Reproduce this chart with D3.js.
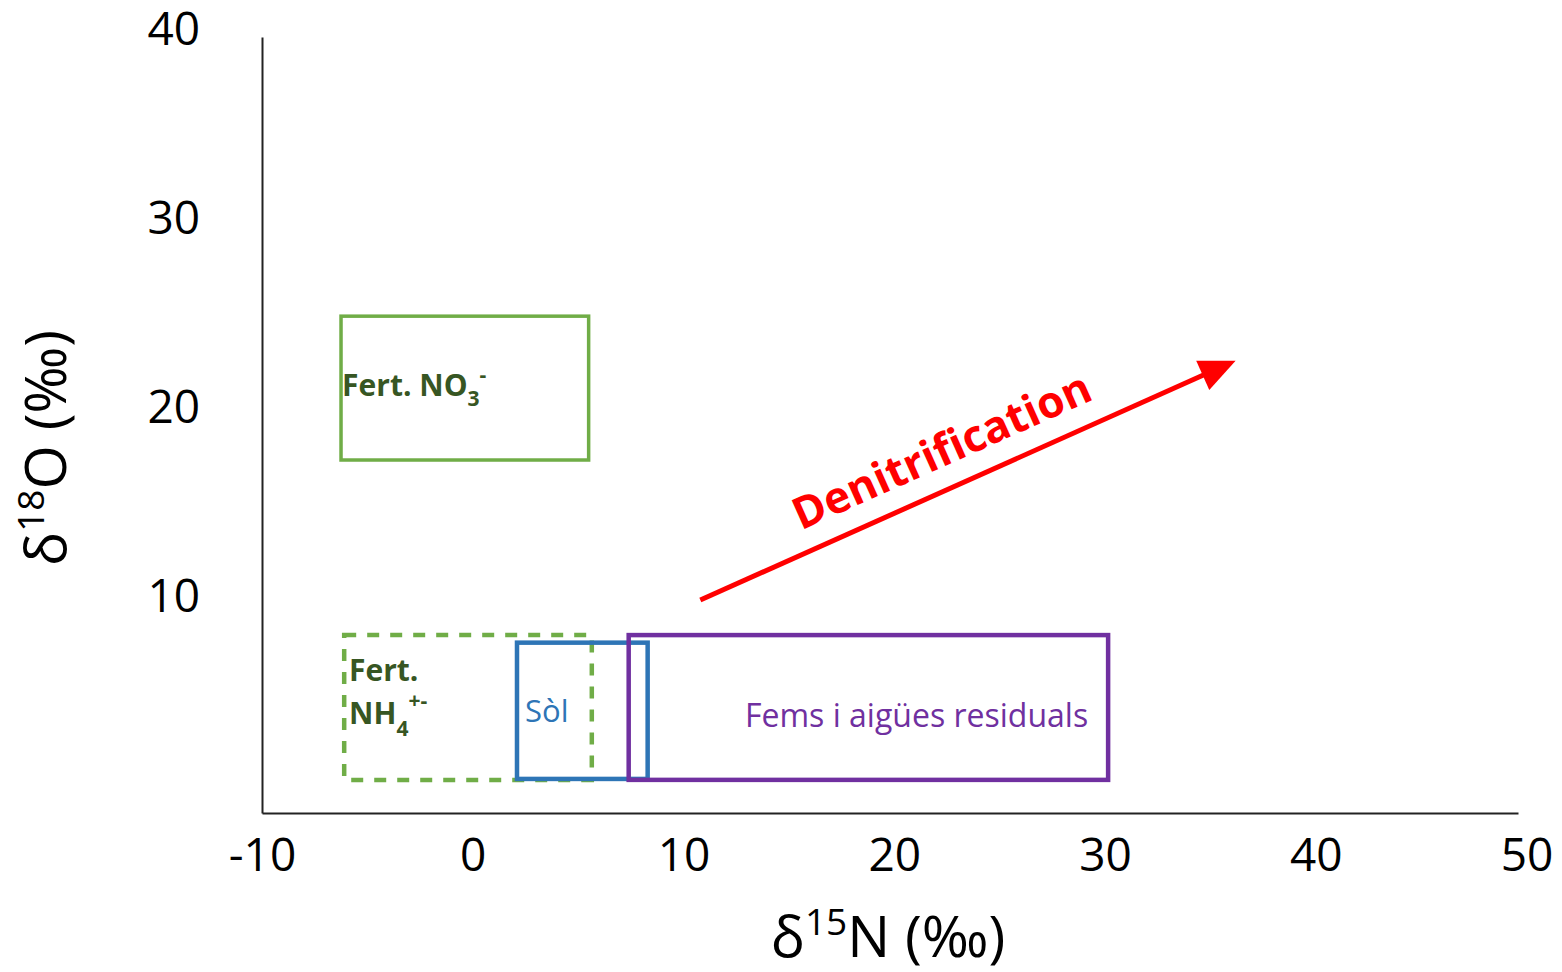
<!DOCTYPE html>
<html>
<head>
<meta charset="utf-8">
<script src="https://cdn.jsdelivr.net/npm/d3@7"></script>
<style>
  body { margin: 0; background: #fff; }
  svg { display: block; font-family: "Open Sans", sans-serif; }
</style>
</head>
<body>
<div id="chart"></div>
<script>
// isotope source ranges, d15N and d18O in permil
const sources = ["Fert. NO3-", "Fert. NH4+-", "Sòl", "Fems i aigües residuals"];
const n15Min = [-6.25, -6.1, 2.1, 7.4];
const n15Max = [5.5, 5.65, 8.3, 30.15];
const o18Min = [17.15, 0.25, 0.3, 0.25];
const o18Max = [24.75, 7.9, 7.5, 7.9];

// where each source name sits (left edge / baseline)
const labelN15 = [-6.2, -5.87, 2.48, 12.92];
const labelO18 = [20.53, 5.47, 3.31, 3.04];

// denitrification trend arrow: start, end
const arrowN15 = [10.8, 36.2];
const arrowO18 = [9.75, 22.4];

const xTicks = [-10, 0, 10, 20, 30, 40, 50];
const yTicks = [10, 20, 30, 40];

const width = 1562, height = 972;
const colors = ["#70ad47", "#70ad47", "#2e75b6", "#7030a0"];
const textColors = ["#375623", "#375623", "#2e75b6", "#7030a0"];

const x = d3.scaleLinear().domain([-10, 49.6]).range([262, 1518]);
const y = d3.scaleLinear().domain([-1.5, 39.5]).range([813, 37]);

const svg = d3.select("#chart")
  .append("svg")
  .attr("width", width)
  .attr("height", height);

// axes: plain lines, big labels, no tick marks
const xAxis = svg.append("g")
  .attr("transform", `translate(0,${y(-1.5)})`)
  .call(d3.axisBottom(x).tickValues(xTicks).tickFormat(d => String(d))
    .tickSize(0).tickSizeOuter(0).tickPadding(25));
const yAxis = svg.append("g")
  .attr("transform", `translate(${x(-10)},0)`)
  .call(d3.axisLeft(y).tickValues(yTicks).tickFormat(d => String(d))
    .tickSize(0).tickSizeOuter(0).tickPadding(62));

[xAxis, yAxis].forEach(g => {
  g.select(".domain").attr("stroke", "#222").attr("stroke-width", 2);
  g.selectAll("text")
    .attr("font-family", "Open Sans, sans-serif")
    .attr("font-size", 46)
    .attr("fill", "#000");
});
yAxis.selectAll("text").attr("dy", "0.36em");

// source boxes (dashed one first so the solid ones go over it)
const dash = [null, "12,11", null, null];
const widths = [3.5, 4.5, 4.5, 4.5];
svg.append("g")
  .selectAll("rect")
  .data(sources)
  .join("rect")
  .attr("x", (d, i) => x(n15Min[i]))
  .attr("y", (d, i) => y(o18Max[i]))
  .attr("width", (d, i) => x(n15Max[i]) - x(n15Min[i]))
  .attr("height", (d, i) => y(o18Min[i]) - y(o18Max[i]))
  .attr("fill", "none")
  .attr("stroke", (d, i) => colors[i])
  .attr("stroke-width", (d, i) => widths[i])
  .attr("stroke-dasharray", (d, i) => dash[i]);

// labels
const lab = svg.append("g");

// Fert. NO3-
let t = lab.append("text")
  .attr("x", x(labelN15[0])).attr("y", y(labelO18[0]))
  .attr("fill", textColors[0]).attr("font-weight", "bold").attr("font-size", 30);
t.append("tspan").text("Fert. NO");
t.append("tspan").attr("font-size", 21).attr("dy", 10).text("3");
t.append("tspan").attr("font-size", 21).attr("dy", -24).text("-");

// Fert. NH4+- on two lines
t = lab.append("text")
  .attr("x", x(labelN15[1])).attr("y", y(labelO18[1]))
  .attr("fill", textColors[1]).attr("font-weight", "bold").attr("font-size", 30);
t.append("tspan").text("Fert.");
t.append("tspan").attr("x", x(labelN15[1])).attr("dy", 43).text("NH");
t.append("tspan").attr("font-size", 21).attr("dy", 12).text("4");
t.append("tspan").attr("font-size", 21).attr("dy", -28).text("+-");

// Sòl and Fems
[2, 3].forEach(i => {
  lab.append("text")
    .attr("x", x(labelN15[i])).attr("y", y(labelO18[i]))
    .attr("fill", textColors[i])
    .attr("font-size", i === 2 ? 31 : 32)
    .text(sources[i]);
});

// denitrification arrow
const x0 = x(arrowN15[0]), y0 = y(arrowO18[0]);
const x1 = x(arrowN15[1]), y1 = y(arrowO18[1]);
const ang = Math.atan2(y1 - y0, x1 - x0);
const headLen = 36, headHalf = 16;
const bx = x1 - headLen * Math.cos(ang), by = y1 - headLen * Math.sin(ang);

svg.append("line")
  .attr("x1", x0).attr("y1", y0)
  .attr("x2", bx + 2 * Math.cos(ang)).attr("y2", by + 2 * Math.sin(ang))
  .attr("stroke", "#ff0000")
  .attr("stroke-width", 5);

svg.append("path")
  .attr("d", d3.line()([
    [x1, y1],
    [bx - headHalf * Math.sin(ang), by + headHalf * Math.cos(ang)],
    [bx + headHalf * Math.sin(ang), by - headHalf * Math.cos(ang)]
  ]) + "Z")
  .attr("fill", "#ff0000");

svg.append("text")
  .attr("transform", `translate(${x(22.55)},${y(16.9)}) rotate(${ang * 180 / Math.PI})`)
  .attr("text-anchor", "middle")
  .attr("fill", "#ff0000")
  .attr("font-weight", "bold")
  .attr("font-size", 44)
  .text("Denitrification");

// axis titles
const xt = svg.append("text")
  .attr("x", 888).attr("y", 957)
  .attr("text-anchor", "middle")
  .attr("font-size", 57)
  .attr("fill", "#000");
xt.append("tspan").text("δ");
xt.append("tspan").attr("font-size", 37).attr("dy", -22).text("15");
xt.append("tspan").attr("dy", 22).text("N (‰)");

const yt = svg.append("text")
  .attr("transform", "translate(66,448) rotate(-90)")
  .attr("text-anchor", "middle")
  .attr("font-size", 57)
  .attr("fill", "#000");
yt.append("tspan").text("δ");
yt.append("tspan").attr("font-size", 37).attr("dy", -22).text("18");
yt.append("tspan").attr("dy", 22).text("O (‰)");
</script>
</body>
</html>
